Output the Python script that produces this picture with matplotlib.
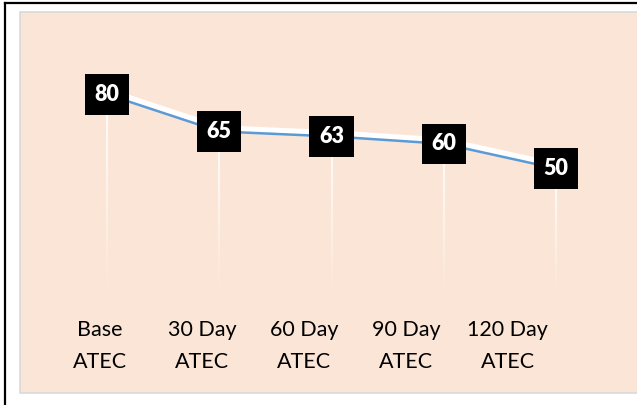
import numpy as np
import matplotlib
matplotlib.use("Agg")
import matplotlib.pyplot as plt
import matplotlib.patheffects as pe
from matplotlib.patches import Rectangle
from matplotlib.collections import LineCollection

plt.rcParams['font.family'] = ['Lato', 'DejaVu Sans']

categories = ['Base\nATEC', '30 Day\nATEC', '60 Day\nATEC', '90 Day\nATEC', '120 Day\nATEC']
scores = [80, 65, 63, 60, 50]

W, H = 637, 405
fig = plt.figure(figsize=(W / 100, H / 100), dpi=100)
fig.patch.set_facecolor('white')

# panel + outer frame (picture is cropped on the right and bottom)
fig.add_artist(Rectangle((20 / W, 12 / H), 1.0, (393 - 12) / H, transform=fig.transFigure,
                         facecolor='#FBE5D6', edgecolor='#D9D9D9', lw=1.2, zorder=0))
fig.add_artist(plt.Line2D([4.5 / W, 4.5 / W], [0, 1 - 2.5 / H], transform=fig.transFigure,
                          color='black', lw=1.6))
fig.add_artist(plt.Line2D([4.5 / W, 1], [1 - 2.5 / H, 1 - 2.5 / H], transform=fig.transFigure,
                          color='black', lw=1.6))

ax = fig.add_axes([51 / W, (H - 292) / H, (612 - 51) / W, (292 - 45) / H])
ax.set_facecolor('none')
x = np.arange(len(scores))
ax.set_xlim(-0.5, len(scores) - 0.5)
ax.set_ylim(0, 100)
ax.axis('off')

# fading drop lines
for xi, v in zip(x, scores):
    ys = np.linspace(v, 0, 40)
    segs = [[(xi, ys[k]), (xi, ys[k + 1])] for k in range(len(ys) - 1)]
    alphas = np.linspace(0.95, 0.05, len(segs))
    cols = [(1, 1, 1, a) for a in alphas]
    ax.add_collection(LineCollection(segs, colors=cols, linewidths=1.6, zorder=1))

# line with white glow above
ax.plot(x, scores, color='#5B9BD5', lw=1.8, zorder=3,
        path_effects=[pe.SimpleLineShadow(offset=(1, 2.4), shadow_color='white', alpha=1.0, linewidth=4.2),
                      pe.Normal()])

for xi, v in zip(x, scores):
    ax.text(xi, v, str(v), ha='center', va='center', color='white', fontsize=15.5,
            fontweight='heavy', zorder=5,
            bbox=dict(boxstyle='square,pad=0.45', facecolor='black', edgecolor='none'))

# category labels (Excel spaces them a bit tighter than the points)
for i, lab in enumerate(categories):
    lx = i * (102 / 112.3) - 7 / 112.3
    ax.text(lx, -11.5, lab, ha='center', va='top', fontsize=15.5, color='black',
            linespacing=1.7)

fig.savefig('out.png', dpi=100)
